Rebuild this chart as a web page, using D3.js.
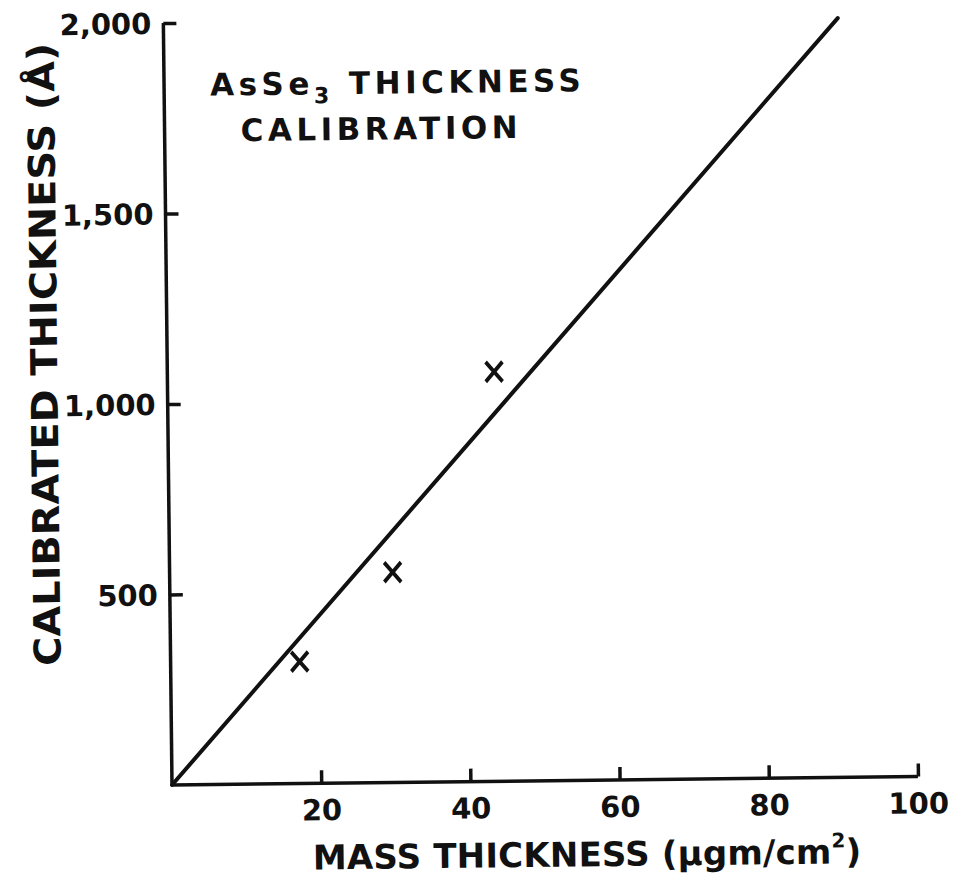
<!DOCTYPE html>
<html>
<head>
<meta charset="utf-8">
<script src="https://cdn.jsdelivr.net/npm/d3@7"></script>
<style>
  html, body { margin: 0; padding: 0; background: #fff; }
  svg { display: block; }
  text { font-family: "DejaVu Sans", sans-serif; font-weight: bold; fill: #111; }
</style>
</head>
<body>
<script>
// Measured samples: mass thickness (µgm/cm²) vs calibrated thickness (Å)
const massThickness = [17.3, 29.9, 43.8];
const calibratedThickness = [320, 552, 1075];

// Calibration line through the origin
const fitMass = [0, 90.4];
const fitThickness = [0, 1993];

// Axis ticks
const xTickValues = [20, 40, 60, 80, 100];
const xTickLabels = ["20", "40", "60", "80", "100"];
const yTickValues = [500, 1000, 1500, 2000];
const yTickLabels = ["500", "1,000", "1,500", "2,000"];

const W = 961, H = 886;
const x0 = 172, x1 = 918, y0 = 785, y1 = 23;

const svg = d3.select("body").append("svg")
  .attr("width", W).attr("height", H);

// The whole sheet sits slightly tilted
const g = svg.append("g")
  .attr("transform", `rotate(-0.65, ${x0}, ${y0})`);

const x = d3.scaleLinear().domain([0, 100]).range([x0, x1]);
const y = d3.scaleLinear().domain([0, 2000]).range([y0, y1]);

const ink = "#111";

// X axis: ticks point up into the plot
const xAxis = d3.axisTop(x)
  .tickValues(xTickValues)
  .tickFormat((d, i) => xTickLabels[i])
  .tickSize(13)
  .tickPadding(0);

const gx = g.append("g").attr("transform", `translate(0,${y0})`).call(xAxis);
gx.select(".domain").attr("d", `M${x0},0H${x1}`).attr("stroke", ink).attr("stroke-width", 3.5);
gx.selectAll(".tick line").attr("stroke", ink).attr("stroke-width", 3.5);
gx.selectAll(".tick text")
  .attr("y", 37)
  .attr("dy", 0)
  .attr("font-size", 29)
  .attr("font-family", "DejaVu Sans")
  .attr("font-weight", "bold")
  .attr("fill", ink);

// Y axis: ticks point right into the plot
const yAxis = d3.axisRight(y)
  .tickValues(yTickValues)
  .tickFormat((d, i) => yTickLabels[i])
  .tickSize(13)
  .tickPadding(0);

const gy = g.append("g").attr("transform", `translate(${x0},0)`).call(yAxis);
gy.select(".domain").attr("d", `M0,${y0}V${y1}`).attr("stroke", ink).attr("stroke-width", 3.5);
gy.selectAll(".tick line").attr("stroke", ink).attr("stroke-width", 3.5);
gy.selectAll(".tick text")
  .attr("x", -12)
  .attr("text-anchor", "end")
  .attr("dy", "0.36em")
  .attr("font-size", 29)
  .attr("font-family", "DejaVu Sans")
  .attr("font-weight", "bold")
  .attr("fill", ink);

// Calibration line
const line = d3.line().x(d => x(d[0])).y(d => y(d[1]));
g.append("path")
  .datum(d3.zip(fitMass, fitThickness))
  .attr("d", line)
  .attr("fill", "none")
  .attr("stroke", ink)
  .attr("stroke-width", 4)
  .attr("stroke-linecap", "round");

// Sample points drawn as crosses
const cross = d3.symbol().type(d3.symbolTimes).size(230);
g.selectAll(".pt")
  .data(d3.zip(massThickness, calibratedThickness))
  .join("path")
  .attr("class", "pt")
  .attr("transform", d => `translate(${x(d[0])},${y(d[1])}) scale(0.9,1.05)`)
  .attr("d", cross)
  .attr("fill", "none")
  .attr("stroke", ink)
  .attr("stroke-width", 4);

// Y axis title
g.append("text")
  .attr("transform", "translate(62,353) rotate(-90)")
  .attr("text-anchor", "middle")
  .attr("font-size", 37)
  .attr("textLength", 623)
  .attr("lengthAdjust", "spacingAndGlyphs")
  .text("CALIBRATED THICKNESS (Å)");

// X axis title
const xt = g.append("text")
  .attr("x", 312)
  .attr("y", 871)
  .attr("font-size", 34)
  .attr("letter-spacing", 0.2);
xt.append("tspan").text("MASS THICKNESS (μgm/cm");
xt.append("tspan").attr("font-size", 20).attr("dy", -16).text("2");
xt.append("tspan").attr("dy", 16).text(")");

// Chart title
const t1 = g.append("text")
  .attr("x", 218)
  .attr("y", 96)
  .attr("font-size", 31)
  .attr("letter-spacing", 4.5);
t1.append("tspan").text("AsSe");
t1.append("tspan").attr("font-size", 22).attr("dy", 9).text("3");
t1.append("tspan").attr("dy", -9).text(" THICKNESS");

g.append("text")
  .attr("x", 248)
  .attr("y", 142)
  .attr("font-size", 31)
  .attr("letter-spacing", 4.5)
  .text("CALIBRATION");
</script>
</body>
</html>
